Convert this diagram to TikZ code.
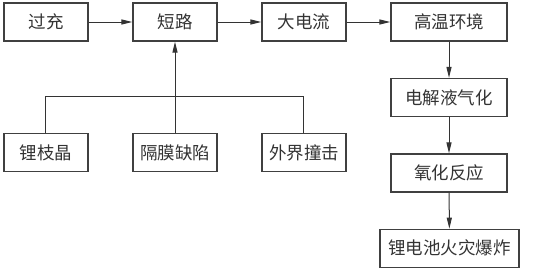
\documentclass[tikz,border=0pt]{standalone}
\usepackage{fontspec}
\newfontfamily\cjk{Noto Sans CJK SC}
\usetikzlibrary{arrows.meta}
\begin{document}
\begin{tikzpicture}[x=1pt,y=-1pt,
  box/.style={draw=black!75,line width=1.2pt,inner sep=0pt,font=\cjk\fontsize{17.5}{18}\selectfont,text=black!80},
  conn/.style={draw=black!80,line width=1pt},
  arr/.style={conn,-{Triangle[length=11pt,width=5pt]}}]
\useasboundingbox (0,0) rectangle (546,273);
\node[box,minimum width=84pt,minimum height=38pt] (gc) at (46,22) {过充};
\node[box,minimum width=84pt,minimum height=38pt] (dl) at (175,22) {短路};
\node[box,minimum width=84pt,minimum height=38pt] (ddl) at (304,22) {大电流};
\node[box,minimum width=116pt,minimum height=38pt] (gw) at (449,22) {高温环境};
\node[box,minimum width=116pt,minimum height=38pt] (dj) at (449,97.5) {电解液气化};
\node[box,minimum width=116pt,minimum height=38pt] (yh) at (449,173) {氧化反应};
\node[box,minimum width=139pt,minimum height=38pt] (hz) at (449.5,248.3) {锂电池火灾爆炸};
\node[box,minimum width=84pt,minimum height=38pt] (lzj) at (46,152.5) {锂枝晶};
\node[box,minimum width=84pt,minimum height=38pt] (gm) at (175,152.5) {隔膜缺陷};
\node[box,minimum width=84pt,minimum height=38pt] (wj) at (304,152.5) {外界撞击};
\coordinate (j) at (175,96.7);
\draw[arr] (gc) -- (dl);
\draw[arr] (dl) -- (ddl);
\draw[arr] (ddl) -- (gw);
\draw[arr] (gw) -- (dj);
\draw[arr] (dj) -- (yh);
\draw[arr] (yh) -- (hz);
\draw[arr] (gm) -- (dl);
\draw[conn] (lzj.north -| 45.7,0) |- (j) -| (wj.north -| 303.3,0);
\end{tikzpicture}
\end{document}
